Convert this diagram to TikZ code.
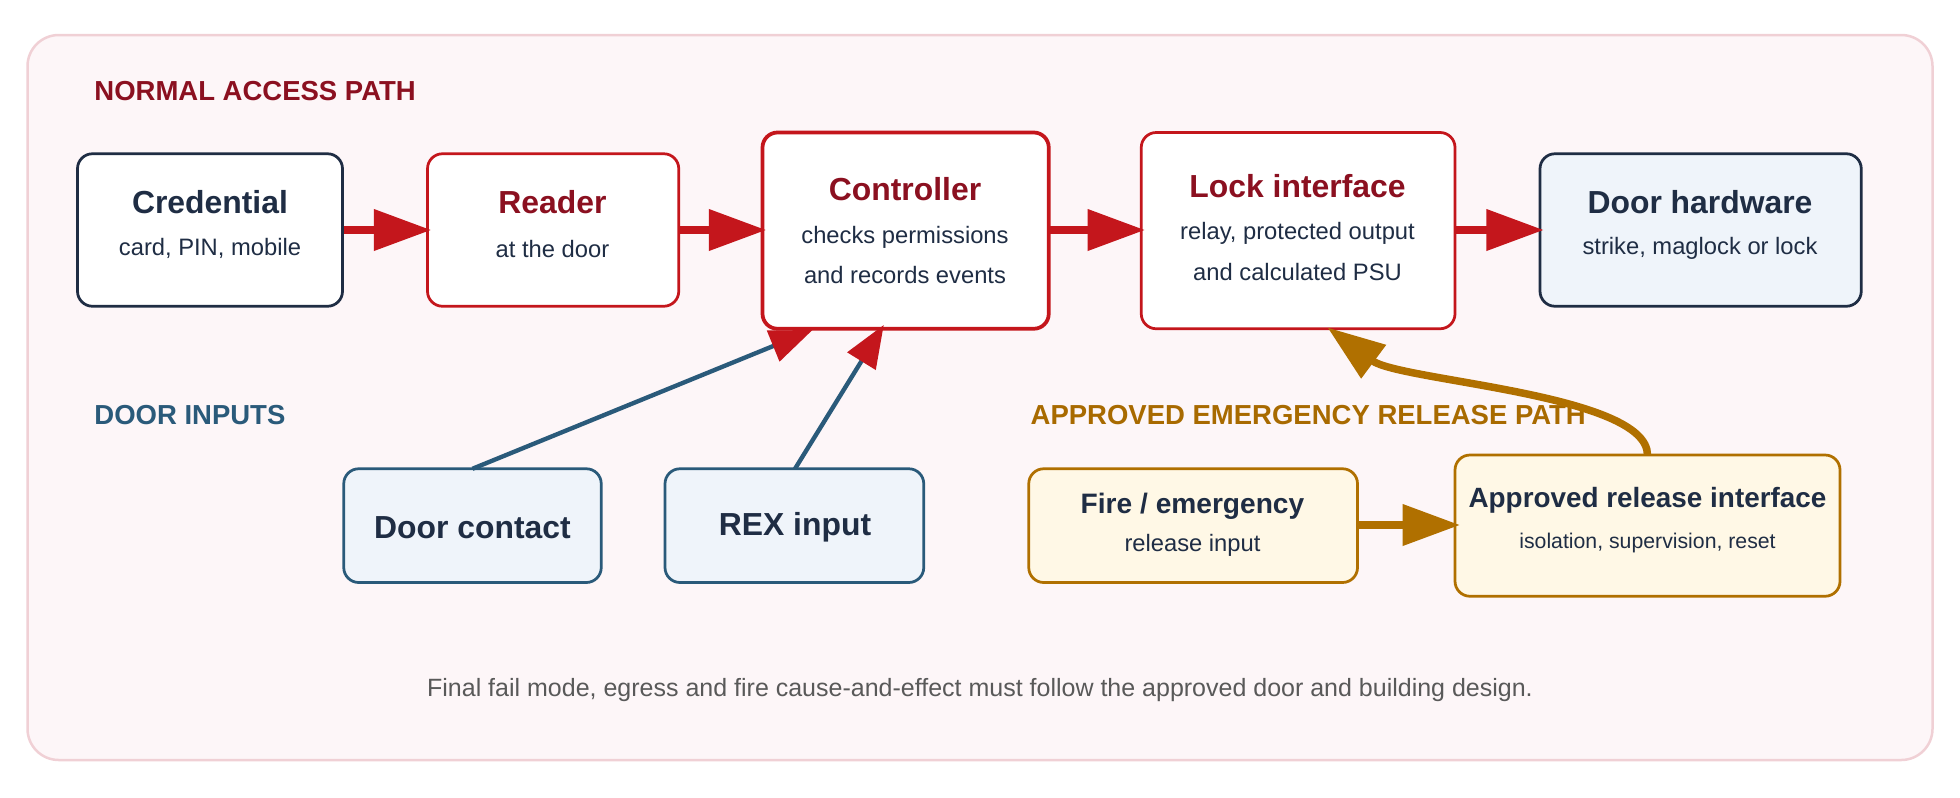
\documentclass[tikz,border=0pt]{standalone}
\usepackage{fontspec}
\setmainfont{Liberation Sans}
\usetikzlibrary{arrows.meta}
\definecolor{navy}{HTML}{1F2D44}
\definecolor{red1}{HTML}{C4161C}
\definecolor{dred}{HTML}{8B1020}
\definecolor{blu}{HTML}{2A5A7A}
\definecolor{gold}{HTML}{B07000}
\definecolor{dgold}{HTML}{A86A00}
\definecolor{pinkbg}{HTML}{FDF6F8}
\definecolor{pinkln}{HTML}{F0D0D5}
\definecolor{lblue}{HTML}{EFF4FA}
\definecolor{lyel}{HTML}{FFF8E6}
\begin{document}
\begin{tikzpicture}[x=1pt,y=-1pt,
 box/.style={rounded corners=12pt,line width=2.2pt,fill=white,align=center},
 t/.style={font=\bfseries\fontsize{25.5}{30}\selectfont},
 s/.style={font=\fontsize{19}{22}\selectfont,text=navy},
 arr/.style={line width=6pt,-{Triangle[length=46pt,width=32pt]}},
 barr/.style={line width=3.5pt,blu,-{Triangle[length=34pt,width=26pt,color=red1]}},
 lbl/.style={font=\bfseries\fontsize{22}{26}\selectfont,anchor=west}]
\useasboundingbox (0,0) rectangle (1568,638);
\draw[fill=pinkbg,draw=pinkln,line width=2pt,rounded corners=25pt] (22,28) rectangle (1546,608);
% boxes
\draw[box,draw=navy] (62,123) rectangle (274,245);
\node[t,text=navy] (crT) at (168,162) {Credential}; \node[s] (crS) at (168,199) {card, PIN, mobile};
\draw[box,draw=red1] (342,123) rectangle (543,245);
\node[t,text=dred] (rdT) at (442,162) {Reader}; \node[s] (rdS) at (442,199) {at the door};
\draw[box,draw=red1,line width=3pt] (610,106) rectangle (839,263);
\node[t,text=dred] (ctT) at (724,151) {Controller}; \node[s] (ctS1) at (724,190) {checks permissions}; \node[s] (ctS2) at (724,220) {and records events};
\draw[box,draw=red1] (913,106) rectangle (1164,263);
\node[t,text=dred] (lkT) at (1038,149) {Lock interface}; \node[s] (lkS1) at (1038,187) {relay, protected output}; \node[s] (lkS2) at (1038,218) {and calculated PSU};
\draw[box,draw=navy,fill=lblue] (1232,123) rectangle (1489,245);
\node[t,text=navy] (dhT) at (1360,162) {Door hardware}; \node[s] (dhS) at (1360,199) {strike, maglock or lock};
\draw[box,draw=blu,fill=lblue] (275,375) rectangle (481,466);
\node[t,text=navy] (dcT) at (378,422) {Door contact};
\draw[box,draw=blu,fill=lblue] (532,375) rectangle (739,466);
\node[t,text=navy] (rxT) at (636,422) {REX input};
\draw[box,draw=gold,fill=lyel] (823,375) rectangle (1086,466);
\node[t,text=navy,font=\bfseries\fontsize{22.5}{26}\selectfont] (fiT) at (954,405) {Fire / emergency}; \node[s] (fiS) at (954,436) {release input};
\draw[box,draw=gold,fill=lyel] (1164,364) rectangle (1472,477);
\node[t,text=navy,font=\bfseries\fontsize{22.3}{26}\selectfont] (apT) at (1318,400) {Approved release interface}; \node[s,font=\fontsize{17}{20}\selectfont] (apS) at (1318,434) {isolation, supervision, reset};
% labels
\node[lbl,text=dred] (l1) at (72,73) {NORMAL ACCESS PATH};
\node[lbl,text=blu] (l2) at (72,332) {DOOR INPUTS};
\node[lbl,text=dgold] (l3) at (821,332) {APPROVED EMERGENCY RELEASE PATH};
\node[font=\fontsize{20}{24}\selectfont,text=black!65] (ft) at (784,552) {Final fail mode, egress and fire cause-and-effect must follow the approved door and building design.};
% arrows
\coordinate (a1) at (275,184); \coordinate (a2) at (345,184);
\draw[arr,red1] (a1) -- (a2);
\coordinate (b1) at (544,184); \coordinate (b2) at (613,184);
\draw[arr,red1] (b1) -- (b2);
\coordinate (c1) at (840,184); \coordinate (c2) at (916,184);
\draw[arr,red1] (c1) -- (c2);
\coordinate (d1) at (1165,184); \coordinate (d2) at (1235,184);
\draw[arr,red1] (d1) -- (d2);
\coordinate (e1) at (378,375); \coordinate (e2) at (650,264);
\draw[barr] (e1) -- (e2);
\coordinate (f1) at (636,375); \coordinate (f2) at (707,260);
\draw[barr] (f1) -- (f2);
\coordinate (g1) at (1086,420); \coordinate (g2) at (1168,420);
\draw[arr,gold] (g1) -- (g2);
\coordinate (h1) at (1318,364); \coordinate (h2) at (1062,262);
\draw[arr,gold] (h1) .. controls (1318,315) and (1120,305) .. (h2);
\end{tikzpicture}
\end{document}
